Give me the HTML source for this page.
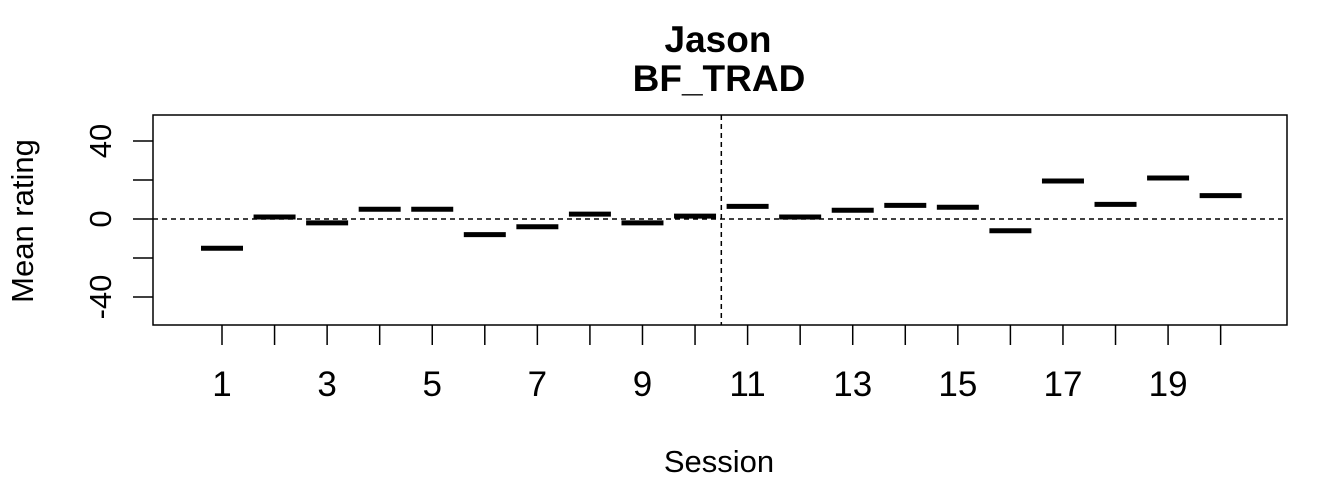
<!DOCTYPE html>
<html><head><meta charset="utf-8"><style>
body{margin:0;background:#fff;}
text{font-family:"Liberation Sans",Arial,sans-serif;fill:#000;}
</style></head><body>
<svg id="chart" width="1344" height="480" xmlns="http://www.w3.org/2000/svg">
<rect width="1344" height="480" fill="#fff"/>
<text x="718" y="52" font-size="37" font-weight="bold" text-anchor="middle">Jason</text>
<text x="719" y="91" font-size="37" font-weight="bold" text-anchor="middle">BF_TRAD</text>
<text x="719" y="472" font-size="31" text-anchor="middle">Session</text>
<text transform="translate(33,221) rotate(-90)" font-size="31" text-anchor="middle">Mean rating</text>
<g id="plot"></g>
</svg>
<script>
const sessions=[1,2,3,4,5,6,7,8,9,10,11,12,13,14,15,16,17,18,19,20];
const ratings=[-15,1,-2,5,5,-8,-4,2.5,-2,1.5,6.5,1,4.5,7,6,-6,19.5,7.5,21,12];
const yTicks=[-40,-20,0,20,40];
const yTickLabels=["-40","","0","","40"];
const phaseChange=10.5;
const ns="http://www.w3.org/2000/svg";
const L=153,R=1287,T=115,B=325;
const xs=n=>222+52.56*(n-1);
const ys=v=>219-v*1.95;
const g=document.getElementById('plot');
function mk(t,a){const e=document.createElementNS(ns,t);for(const k in a)e.setAttribute(k,a[k]);g.appendChild(e);return e;}
let e=mk('rect',{x:L,y:T,width:R-L,height:B-T,fill:'none',stroke:'#000','stroke-width':1.5});


e=mk('line',{x1:L,x2:R,y1:ys(0),y2:ys(0),stroke:'#000','stroke-width':1.5,'stroke-dasharray':'5,4'});


e=mk('line',{x1:xs(phaseChange),x2:xs(phaseChange),y1:T,y2:B,stroke:'#000','stroke-width':1.5,'stroke-dasharray':'5,4'});


yTicks.forEach((v,i)=>{
 let t=mk('line',{x1:L-20,x2:L,y1:ys(v),y2:ys(v),stroke:'#000','stroke-width':1.5});
 
 
 if(yTickLabels[i]){
  let tx=mk('text',{transform:`translate(${L-42},${ys(v)}) rotate(-90)`,'font-size':31,'text-anchor':'middle'});
  tx.textContent=yTickLabels[i];
  
  
 }
});
sessions.forEach((s,i)=>{
 let t=mk('line',{x1:xs(s),x2:xs(s),y1:B,y2:B+20,stroke:'#000','stroke-width':1.5});
 
 
 if(s%2===1){
  let tx=mk('text',{x:xs(s),y:396,'font-size':35,'text-anchor':'middle'});
  tx.textContent=String(s);
  
  
 }
 let m=mk('line',{x1:xs(s)-21,x2:xs(s)+21,y1:ys(ratings[i]),y2:ys(ratings[i]),stroke:'#000','stroke-width':5});
 
 
});
</script>
</body></html>
